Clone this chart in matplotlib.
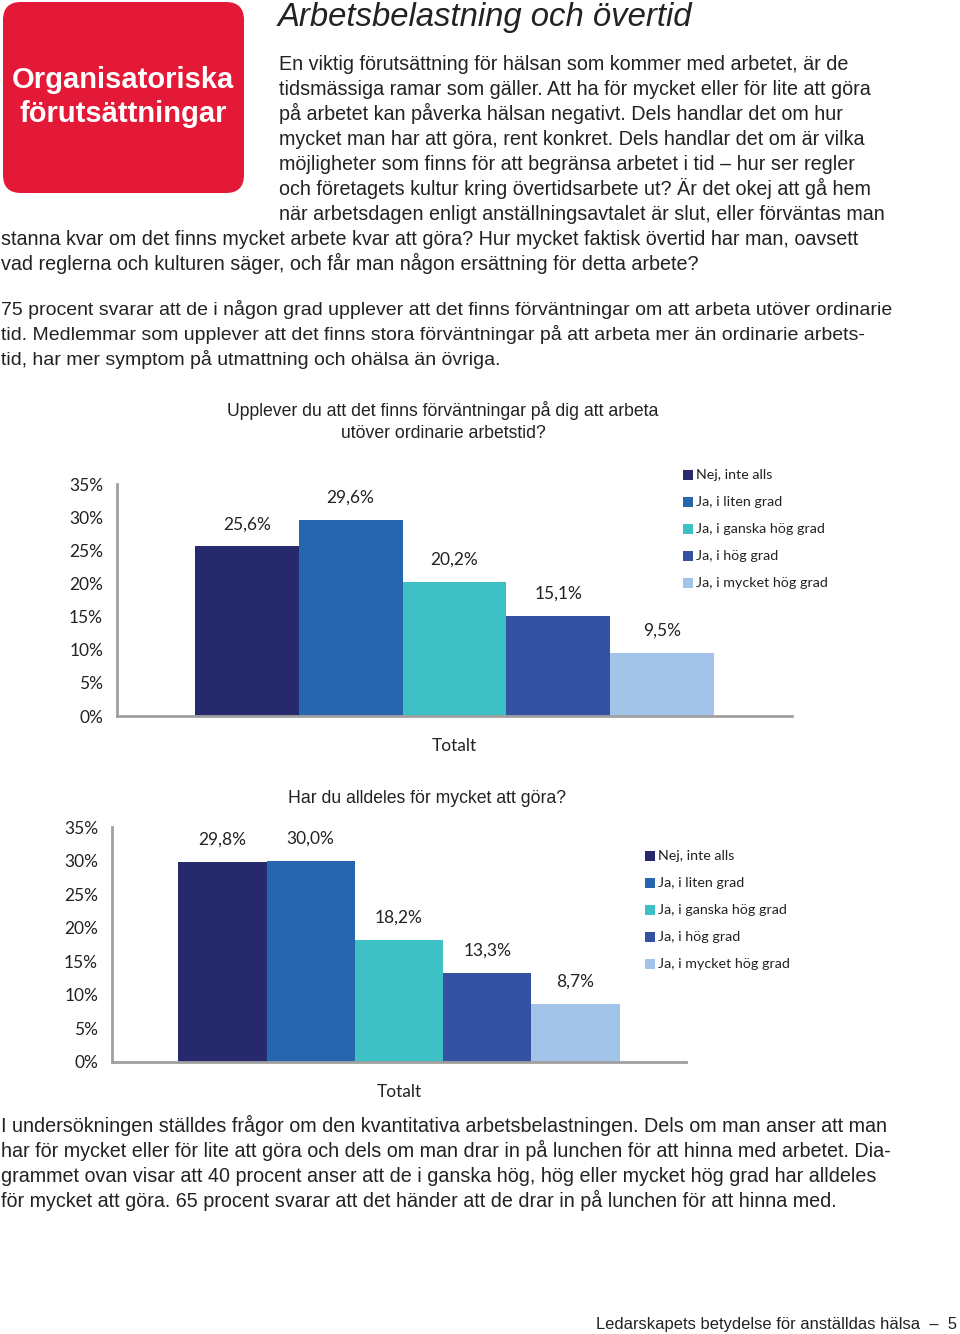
import numpy as np
import matplotlib.pyplot as plt
from matplotlib.patches import FancyBboxPatch

# Data
svar = ['Nej, inte alls', 'Ja, i liten grad', 'Ja, i ganska hög grad',
        'Ja, i hög grad', 'Ja, i mycket hög grad']
farger = ['#262A6C', '#2766AE', '#3EC1C4', '#3451A2', '#A1C4E8']
forvantningar = [25.6, 29.6, 20.2, 15.1, 9.5]
for_mycket = [29.8, 30.0, 18.2, 13.3, 8.7]
kategori = ['Totalt']
yticks = [0, 5, 10, 15, 20, 25, 30, 35]

W, H = 960, 1334
fig = plt.figure(figsize=(W / 100, H / 100), dpi=100)

textfont = ['Liberation Sans', 'DejaVu Sans']
chartfont = ['Lato', 'DejaVu Sans']


def px(x, y):
    return x / W, 1 - y / H


def text(x, y, s, fontsize, **kw):
    # y is the visual middle of the capitals; place on the baseline
    fx, fy = px(x, y + 0.36 * fontsize * 100 / 72)
    fig.text(fx, fy, s, va='baseline', family=textfont, fontsize=fontsize,
             **kw)


# Red header box (drawn in pixel units so the corners stay round)
box = FancyBboxPatch((3, H - 193), 241, 191,
                     boxstyle='round,pad=0,rounding_size=18',
                     transform=None, fc='#E31937', ec='none')
fig.patches.append(box)
text(123, 77, 'Organisatoriska', 21, color='white',
     fontweight='bold', ha='center')
text(123, 111, 'förutsättningar', 21, color='white',
     fontweight='bold', ha='center')

text(278, 14, 'Arbetsbelastning och övertid', 23.7,
     style='italic', color='#222222')

intro = [
    (278, 'En viktig förutsättning för hälsan som kommer med arbetet, är de'),
    (278, 'tidsmässiga ramar som gäller. Att ha för mycket eller för lite att göra'),
    (278, 'på arbetet kan påverka hälsan negativt. Dels handlar det om hur'),
    (278, 'mycket man har att göra, rent konkret. Dels handlar det om är vilka'),
    (278, 'möjligheter som finns för att begränsa arbetet i tid – hur ser regler'),
    (278, 'och företagets kultur kring övertidsarbete ut? Är det okej att gå hem'),
    (278, 'när arbetsdagen enligt anställningsavtalet är slut, eller förväntas man'),
    (0, 'stanna kvar om det finns mycket arbete kvar att göra? Hur mycket faktisk övertid har man, oavsett'),
    (0, 'vad reglerna och kulturen säger, och får man någon ersättning för detta arbete?'),
]
for i, (x, s) in enumerate(intro):
    text(x + 1, 63 + 25 * i, s, 14.2, color='#222222')

para2 = [
    '75 procent svarar att de i någon grad upplever att det finns förväntningar om att arbeta utöver ordinarie',
    'tid. Medlemmar som upplever att det finns stora förväntningar på att arbeta mer än ordinarie arbets-',
    'tid, har mer symptom på utmattning och ohälsa än övriga.',
]
for i, s in enumerate(para2):
    text(1, 308 + 25 * i, s, 14.0, color='#222222')

para3 = [
    'I undersökningen ställdes frågor om den kvantitativa arbetsbelastningen. Dels om man anser att man',
    'har för mycket eller för lite att göra och dels om man drar in på lunchen för att hinna med arbetet. Dia-',
    'grammet ovan visar att 40 procent anser att de i ganska hög, hög eller mycket hög grad har alldeles',
    'för mycket att göra. 65 procent svarar att det händer att de drar in på lunchen för att hinna med.',
]
for i, s in enumerate(para3):
    text(1, 1125 + 25 * i, s, 14.2, color='#222222')

text(957, 1323, 'Ledarskapets betydelse för anställdas hälsa  –  5', 11.9,
     color='#222222', ha='right')


def chart(left, right, top, bottom, values, title_lines, title_x,
          title_y, leg_x, leg_y):
    fl, fb = px(left, bottom)
    ax = fig.add_axes([fl, fb, (right - left) / W, (bottom - top) / H])
    x = np.arange(len(values)) - 2
    bars = ax.bar(x, values, width=1.0, color=farger, label=svar)
    for b, v in zip(bars, values):
        ax.annotate(f'{v:.1f}'.replace('.', ',') + '%',
                    (b.get_x() + b.get_width() / 2, v),
                    xytext=(0, 22), textcoords='offset pixels',
                    ha='center', va='center', fontsize=12.5,
                    family=chartfont, color='#222222')
    ax.set_xlim(-3.25, 3.25)
    ax.set_ylim(0, 35)
    ax.set_yticks(yticks)
    ax.set_yticklabels([f'{t}%' for t in yticks])
    ax.set_xticks([0])
    ax.set_xticklabels(kategori)
    ax.tick_params(length=0, labelsize=12.5, labelcolor='#222222')
    ax.tick_params(axis='y', pad=10)
    ax.tick_params(axis='x', pad=16)
    for lab in ax.get_xticklabels() + ax.get_yticklabels():
        lab.set_family(chartfont)
    for side in ['top', 'right']:
        ax.spines[side].set_visible(False)
    for side in ['left', 'bottom']:
        ax.spines[side].set_color('#A0A0A0')
        ax.spines[side].set_linewidth(2)
    for i, s in enumerate(title_lines):
        text(title_x, title_y + 22 * i, s, 12.7, ha='center',
             color='#222222')
    for i, (s, c) in enumerate(zip(svar, farger)):
        sx, sy = px(leg_x, leg_y + 27 * i)
        fig.patches.append(plt.Rectangle((sx, sy - 5 / H), 10 / W, 10 / H,
                                         transform=fig.transFigure,
                                         fc=c, ec='none'))
        fx, fy = px(leg_x + 13, leg_y + 27 * i)
        fig.text(fx, fy, s, fontsize=10.3, va='center', family=chartfont,
                 color='#222222')


chart(117, 792, 484, 716, forvantningar,
      ['Upplever du att det finns förväntningar på dig att arbeta',
       'utöver ordinarie arbetstid?'], 443, 410, 683, 475)
chart(112, 686, 827, 1062, for_mycket,
      ['Har du alldeles för mycket att göra?'], 427, 797, 645, 856)

fig.savefig('out.png', dpi=100)
